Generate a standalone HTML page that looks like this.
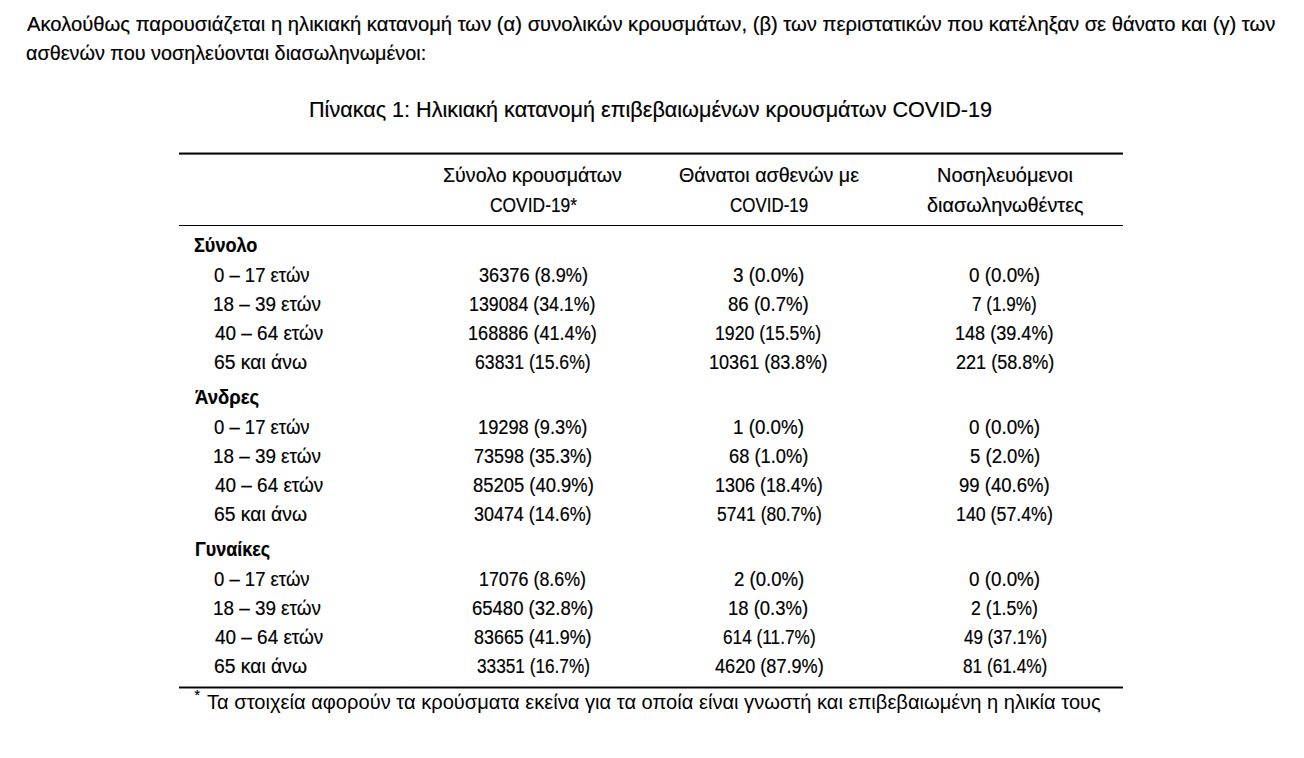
<!DOCTYPE html>
<html><head><meta charset="utf-8"><style>
html,body{margin:0;padding:0;background:#fff;width:1304px;height:758px;overflow:hidden;}
.t{position:absolute;white-space:nowrap;line-height:1;font-family:"Liberation Sans", sans-serif;color:#000;transform-origin:0 0;-webkit-text-stroke:0.2px #000;}
.f{-webkit-text-stroke:0;}
.r{position:absolute;left:179px;width:944px;background:#000;}
</style></head><body>
<div class="t" style="left:26.90px;top:13.80px;font-size:20px;transform:scaleX(1.0108)">Ακολούθως παρουσιάζεται η ηλικιακή κατανομή των (α) συνολικών κρουσμάτων, (β) των περιστατικών που κατέληξαν σε θάνατο και (γ) των</div>
<div class="t" style="left:26.01px;top:42.80px;font-size:20px;transform:scaleX(0.9905)">ασθενών που νοσηλεύονται διασωληνωμένοι:</div>
<div class="t" style="left:309.04px;top:98.90px;font-size:22px;transform:scaleX(0.9812)">Πίνακας 1: Ηλικιακή κατανομή επιβεβαιωμένων κρουσμάτων COVID-19</div>
<div class="t" style="left:443.22px;top:164.70px;font-size:20px;transform:scaleX(0.9801)">Σύνολο κρουσμάτων</div>
<div class="t" style="left:489.53px;top:194.70px;font-size:20px;transform:scaleX(0.8704)">COVID-19*</div>
<div class="t" style="left:679.02px;top:164.70px;font-size:20px;transform:scaleX(0.9834)">Θάνατοι ασθενών με</div>
<div class="t" style="left:730.15px;top:194.70px;font-size:20px;transform:scaleX(0.8467)">COVID-19</div>
<div class="t" style="left:936.50px;top:164.70px;font-size:20px;transform:scaleX(0.9992)">Νοσηλευόμενοι</div>
<div class="t" style="left:926.71px;top:194.70px;font-size:20px;transform:scaleX(0.9910)">διασωληνωθέντες</div>
<div class="t" style="left:193.90px;top:235.00px;font-size:20px;font-weight:700;transform:scaleX(0.9044)">Σύνολο</div>
<div class="t" style="left:213.97px;top:264.80px;font-size:20px;transform:scaleX(0.9255)">0 – 17 ετών</div>
<div class="t" style="left:478.54px;top:264.80px;font-size:20px;transform:scaleX(0.9076)">36376 (8.9%)</div>
<div class="t" style="left:733.11px;top:264.80px;font-size:20px;transform:scaleX(0.9419)">3 (0.0%)</div>
<div class="t" style="left:969.11px;top:264.80px;font-size:20px;transform:scaleX(0.9405)">0 (0.0%)</div>
<div class="t" style="left:213.12px;top:293.80px;font-size:20px;transform:scaleX(0.9420)">18 – 39 ετών</div>
<div class="t" style="left:469.47px;top:293.80px;font-size:20px;transform:scaleX(0.8885)">139084 (34.1%)</div>
<div class="t" style="left:728.37px;top:293.80px;font-size:20px;transform:scaleX(0.9318)">86 (0.7%)</div>
<div class="t" style="left:972.29px;top:293.80px;font-size:20px;transform:scaleX(0.8568)">7 (1.9%)</div>
<div class="t" style="left:215.00px;top:322.80px;font-size:20px;transform:scaleX(0.9465)">40 – 64 ετών</div>
<div class="t" style="left:468.29px;top:322.80px;font-size:20px;transform:scaleX(0.9050)">168886 (41.4%)</div>
<div class="t" style="left:715.48px;top:322.80px;font-size:20px;transform:scaleX(0.8829)">1920 (15.5%)</div>
<div class="t" style="left:955.14px;top:322.80px;font-size:20px;transform:scaleX(0.9038)">148 (39.4%)</div>
<div class="t" style="left:214.03px;top:351.80px;font-size:20px;transform:scaleX(0.9653)">65 και άνω</div>
<div class="t" style="left:475.22px;top:351.80px;font-size:20px;transform:scaleX(0.8822)">63831 (15.6%)</div>
<div class="t" style="left:709.29px;top:351.80px;font-size:20px;transform:scaleX(0.9031)">10361 (83.8%)</div>
<div class="t" style="left:955.65px;top:351.80px;font-size:20px;transform:scaleX(0.9028)">221 (58.8%)</div>
<div class="t" style="left:194.77px;top:386.90px;font-size:20px;font-weight:700;transform:scaleX(0.9269)">Άνδρες</div>
<div class="t" style="left:213.97px;top:416.70px;font-size:20px;transform:scaleX(0.9255)">0 – 17 ετών</div>
<div class="t" style="left:477.88px;top:416.70px;font-size:20px;transform:scaleX(0.9111)">19298 (9.3%)</div>
<div class="t" style="left:732.77px;top:416.70px;font-size:20px;transform:scaleX(0.9384)">1 (0.0%)</div>
<div class="t" style="left:969.11px;top:416.70px;font-size:20px;transform:scaleX(0.9405)">0 (0.0%)</div>
<div class="t" style="left:213.12px;top:445.70px;font-size:20px;transform:scaleX(0.9420)">18 – 39 ετών</div>
<div class="t" style="left:474.05px;top:445.70px;font-size:20px;transform:scaleX(0.9000)">73598 (35.3%)</div>
<div class="t" style="left:729.03px;top:445.70px;font-size:20px;transform:scaleX(0.9165)">68 (1.0%)</div>
<div class="t" style="left:969.62px;top:445.70px;font-size:20px;transform:scaleX(0.9270)">5 (2.0%)</div>
<div class="t" style="left:215.00px;top:474.70px;font-size:20px;transform:scaleX(0.9465)">40 – 64 ετών</div>
<div class="t" style="left:472.68px;top:474.70px;font-size:20px;transform:scaleX(0.9209)">85205 (40.9%)</div>
<div class="t" style="left:714.61px;top:474.70px;font-size:20px;transform:scaleX(0.8974)">1306 (18.4%)</div>
<div class="t" style="left:959.42px;top:474.70px;font-size:20px;transform:scaleX(0.9271)">99 (40.6%)</div>
<div class="t" style="left:214.03px;top:503.70px;font-size:20px;transform:scaleX(0.9653)">65 και άνω</div>
<div class="t" style="left:474.30px;top:503.70px;font-size:20px;transform:scaleX(0.8961)">30474 (14.6%)</div>
<div class="t" style="left:716.58px;top:503.70px;font-size:20px;transform:scaleX(0.8720)">5741 (80.7%)</div>
<div class="t" style="left:955.97px;top:503.70px;font-size:20px;transform:scaleX(0.8887)">140 (57.4%)</div>
<div class="t" style="left:194.80px;top:538.80px;font-size:20px;font-weight:700;transform:scaleX(0.8963)">Γυναίκες</div>
<div class="t" style="left:213.97px;top:568.60px;font-size:20px;transform:scaleX(0.9255)">0 – 17 ετών</div>
<div class="t" style="left:479.12px;top:568.60px;font-size:20px;transform:scaleX(0.8906)">17076 (8.6%)</div>
<div class="t" style="left:733.57px;top:568.60px;font-size:20px;transform:scaleX(0.9297)">2 (0.0%)</div>
<div class="t" style="left:969.11px;top:568.60px;font-size:20px;transform:scaleX(0.9405)">0 (0.0%)</div>
<div class="t" style="left:213.12px;top:597.60px;font-size:20px;transform:scaleX(0.9420)">18 – 39 ετών</div>
<div class="t" style="left:472.43px;top:597.60px;font-size:20px;transform:scaleX(0.9248)">65480 (32.8%)</div>
<div class="t" style="left:728.25px;top:597.60px;font-size:20px;transform:scaleX(0.9238)">18 (0.3%)</div>
<div class="t" style="left:971.21px;top:597.60px;font-size:20px;transform:scaleX(0.8851)">2 (1.5%)</div>
<div class="t" style="left:215.00px;top:626.60px;font-size:20px;transform:scaleX(0.9465)">40 – 64 ετών</div>
<div class="t" style="left:474.30px;top:626.60px;font-size:20px;transform:scaleX(0.8961)">83665 (41.9%)</div>
<div class="t" style="left:722.79px;top:626.60px;font-size:20px;transform:scaleX(0.8619)">614 (11.7%)</div>
<div class="t" style="left:963.65px;top:626.60px;font-size:20px;transform:scaleX(0.8495)">49 (37.1%)</div>
<div class="t" style="left:214.03px;top:655.60px;font-size:20px;transform:scaleX(0.9653)">65 και άνω</div>
<div class="t" style="left:476.59px;top:655.60px;font-size:20px;transform:scaleX(0.8612)">33351 (16.7%)</div>
<div class="t" style="left:715.05px;top:655.60px;font-size:20px;transform:scaleX(0.9050)">4620 (87.9%)</div>
<div class="t" style="left:962.64px;top:655.60px;font-size:20px;transform:scaleX(0.8615)">81 (61.4%)</div>
<div class="t f" style="left:207.20px;top:691.80px;font-size:20px;transform:scaleX(1.0053)">Τα στοιχεία αφορούν τα κρούσματα εκείνα για τα οποία είναι γνωστή και επιβεβαιωμένη η ηλικία τους</div>
<div class="t" style="left:194.60px;top:688.20px;font-size:14px;transform:scaleX(1.0000)">*</div>
<div class="r" style="top:152px;height:3px;background:linear-gradient(#888 0 1px,#000 1px 2px,#666 2px 3px)"></div><div class="r" style="top:225px;height:1px;background:#000"></div><div class="r" style="top:686px;height:3px;background:linear-gradient(#888 0 1px,#000 1px 2px,#888 2px 3px)"></div>
</body></html>
